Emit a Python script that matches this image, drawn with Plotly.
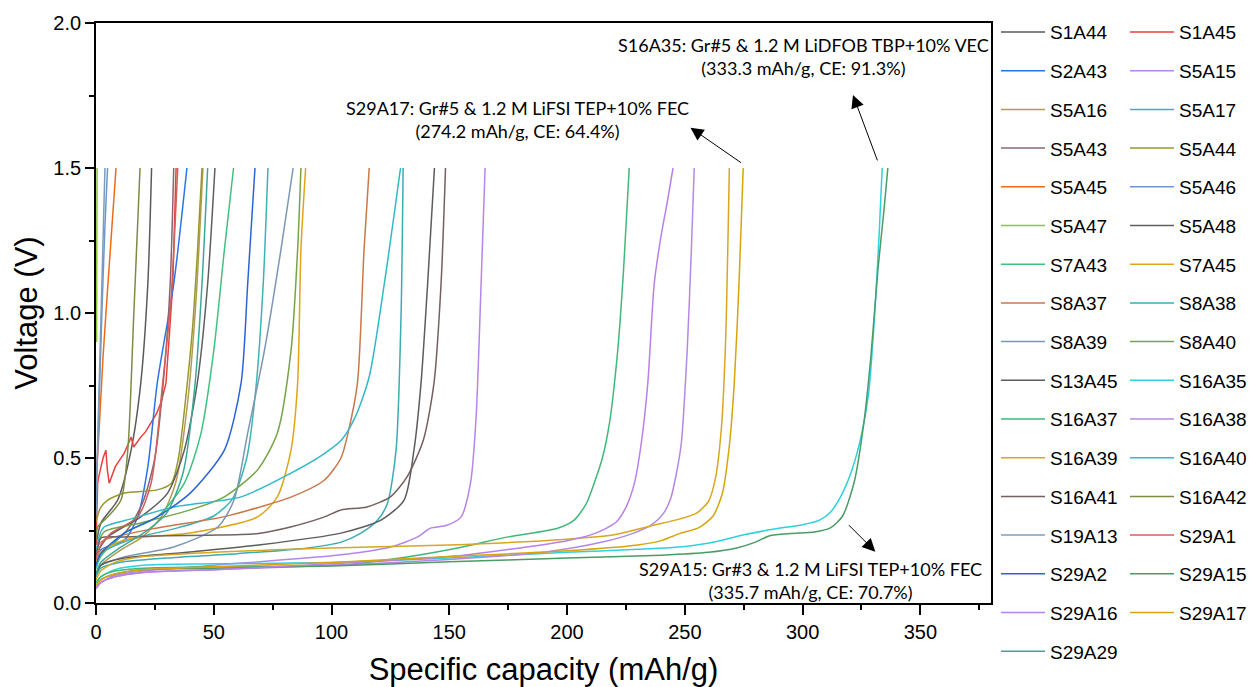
import plotly.graph_objects as go

# ---------------- data (capacity mAh/g, voltage V) ----------------
cap_S1A44 = [0, 2.1, 9.2, 14.9, 19, 22, 23.6]
volt_S1A44 = [0.2, 0.276, 0.355, 0.527, 0.758, 1.1, 1.5]

cap_S1A45 = [0, 0.3, 0.7, 1.3, 2.1, 3.0, 4.2, 4.8, 5.6, 7, 8.2, 9.2, 10.5, 12, 13.5, 14.9, 16, 17.5, 19, 21, 23.4, 25.5, 27.6, 29.7, 31.2, 32.6, 34]
volt_S1A45 = [0.2, 0.3, 0.413, 0.44, 0.469, 0.5, 0.527, 0.46, 0.413, 0.448, 0.47, 0.483, 0.5, 0.517, 0.545, 0.572, 0.538, 0.555, 0.572, 0.59, 0.62, 0.65, 0.69, 0.758, 0.93, 1.1, 1.5]

cap_S2A43 = [0, 2, 12, 17.7, 22, 26, 33, 38.6]
volt_S2A43 = [0.12, 0.183, 0.217, 0.297, 0.469, 0.758, 1.1, 1.5]

cap_S5A15 = [0, 2, 8, 20, 50, 104, 125, 136.6, 142, 149, 155, 159, 161.4, 163.5, 165.2]
volt_S5A15 = [0.05, 0.07, 0.095, 0.11, 0.13, 0.166, 0.193, 0.228, 0.258, 0.268, 0.297, 0.413, 0.643, 1.1, 1.5]

cap_S5A16 = [0, 2, 10, 20, 28, 34, 39, 42.5, 45.4]
volt_S5A16 = [0.09, 0.13, 0.18, 0.23, 0.3, 0.42, 0.7, 1.05, 1.5]

cap_S5A17 = [0, 2, 15, 35, 50, 58, 64, 68, 71, 73]
volt_S5A17 = [0.12, 0.17, 0.22, 0.26, 0.3, 0.36, 0.5, 0.75, 1.1, 1.5]

cap_S5A43 = [0, 2, 8, 14, 20, 25, 29, 31.5, 33]
volt_S5A43 = [0.12, 0.17, 0.21, 0.26, 0.35, 0.5, 0.8, 1.1, 1.5]

cap_S5A44 = [0, 2, 5, 12, 26, 32, 35, 38, 41, 43, 45]
volt_S5A44 = [0.28, 0.33, 0.355, 0.379, 0.39, 0.413, 0.5, 0.7, 0.95, 1.2, 1.5]

cap_S5A45 = [0, 1, 3, 5.5, 8.5]
volt_S5A45 = [0.42, 0.55, 0.85, 1.15, 1.5]

cap_S5A46 = [0, 1, 2.5, 3.8, 4.9]
volt_S5A46 = [0.35, 0.6, 1.0, 1.3, 1.5]

cap_S5A47 = [0.25, 0.3, 0.35, 0.4, 0.45]
volt_S5A47 = [0.9, 1.1, 1.25, 1.35, 1.5]

cap_S5A48 = [0, 1, 5, 19, 30.4, 37.5, 43, 47.4, 50.5]
volt_S5A48 = [0.14, 0.18, 0.228, 0.297, 0.379, 0.527, 0.758, 1.1, 1.5]

cap_S7A43 = [0, 2, 12, 26, 37.5, 44.6, 50, 54.5, 58.4]
volt_S7A43 = [0.12, 0.16, 0.241, 0.297, 0.413, 0.586, 0.87, 1.217, 1.5]

cap_S7A45 = [0, 1, 12, 40, 68.6, 77, 82.8, 85.6, 87, 89]
volt_S7A45 = [0.13, 0.17, 0.217, 0.241, 0.297, 0.366, 0.527, 0.758, 1.217, 1.5]

cap_S8A37 = [0, 1, 3.4, 26, 54, 83, 97, 104, 107, 111, 113.8, 116]
volt_S8A37 = [0.15, 0.2, 0.217, 0.259, 0.297, 0.366, 0.424, 0.5, 0.586, 0.758, 1.217, 1.5]

cap_S8A38 = [0, 2, 10, 30, 60, 90, 104, 112.5, 119.6, 123.8, 127.4, 129.5, 130.4]
volt_S8A38 = [0.09, 0.12, 0.14, 0.155, 0.17, 0.19, 0.21, 0.241, 0.286, 0.345, 0.527, 0.986, 1.5]

cap_S8A39 = [0, 2, 12, 33, 51.7, 58.6, 64.4, 71.5, 78.5, 83.7]
volt_S8A39 = [0.1, 0.13, 0.159, 0.193, 0.262, 0.355, 0.586, 0.87, 1.217, 1.5]

cap_S8A40 = [0, 3.4, 19, 40, 54.5, 68.6, 77, 82.8, 85.6, 87]
volt_S8A40 = [0.18, 0.245, 0.276, 0.321, 0.366, 0.459, 0.586, 0.87, 1.217, 1.5]

cap_S13A45 = [0, 2, 12, 40, 69, 104, 121, 130.8, 135, 138, 140.8, 143.7]
volt_S13A45 = [0.1, 0.13, 0.155, 0.176, 0.2, 0.241, 0.286, 0.355, 0.527, 0.758, 1.1, 1.5]

cap_S16A35 = [0, 2, 8, 20, 50, 100, 150, 200, 230, 250, 265, 275, 288, 300, 307, 312, 317, 321, 325, 328, 330.5, 332.5, 333.8]
volt_S16A35 = [0.07, 0.09, 0.115, 0.13, 0.135, 0.14, 0.155, 0.175, 0.185, 0.195, 0.215, 0.235, 0.255, 0.27, 0.285, 0.315, 0.38, 0.46, 0.58, 0.72, 0.98, 1.27, 1.5]

cap_S16A37 = [0, 2, 8, 20, 50, 104, 132, 153.5, 175, 196, 203, 208, 211.5, 215, 218, 221.5, 224, 226.4]
volt_S16A37 = [0.07, 0.09, 0.11, 0.12, 0.125, 0.131, 0.159, 0.19, 0.228, 0.258, 0.286, 0.34, 0.413, 0.5, 0.62, 0.87, 1.15, 1.5]

cap_S16A38 = [0, 2, 8, 20, 50, 100, 150, 190, 215, 228, 236, 241, 244, 246.5, 248.5, 251, 252.7, 254]
volt_S16A38 = [0.05, 0.07, 0.09, 0.105, 0.115, 0.13, 0.15, 0.175, 0.21, 0.24, 0.27, 0.31, 0.36, 0.45, 0.55, 0.87, 1.2, 1.5]

cap_S16A39 = [0, 2, 8, 20, 50, 100, 150, 200, 220, 235, 248, 255, 260, 263, 265.5, 267.3, 268.9]
volt_S16A39 = [0.08, 0.11, 0.14, 0.16, 0.175, 0.19, 0.2, 0.22, 0.235, 0.265, 0.29, 0.31, 0.35, 0.43, 0.6, 0.9, 1.5]

cap_S16A40 = [0, 1, 3.4, 15, 33, 61.6, 82.8, 96, 104, 110, 116, 122.4, 129.3]
volt_S16A40 = [0.15, 0.22, 0.262, 0.29, 0.331, 0.366, 0.448, 0.51, 0.56, 0.64, 0.78, 1.1, 1.5]

cap_S16A41 = [0, 1, 2, 12, 30, 47.5, 69, 83, 97, 104, 115, 125, 132, 139, 143.5, 146.5, 148.4]
volt_S16A41 = [0.16, 0.2, 0.224, 0.228, 0.232, 0.234, 0.24, 0.263, 0.297, 0.321, 0.331, 0.366, 0.434, 0.562, 0.758, 1.1, 1.5]

cap_S16A42 = [0, 0.7, 5, 10.6, 13.5, 16, 18.7]
volt_S16A42 = [0.22, 0.262, 0.297, 0.355, 0.527, 0.986, 1.5]

cap_S19A13 = [0, 0.5, 1.5, 2.5, 3.8]
volt_S19A13 = [0.3, 0.5, 0.8, 1.1, 1.5]

cap_S29A1 = [0, 2, 6.4, 17.7, 23.4, 28.3, 31.8, 34.7]
volt_S29A1 = [0.15, 0.2, 0.241, 0.297, 0.413, 0.758, 1.045, 1.5]

cap_S29A2 = [0, 2, 12, 26, 40, 54.5, 61.6, 64.4, 67.5]
volt_S29A2 = [0.13, 0.17, 0.241, 0.297, 0.379, 0.527, 0.758, 1.1, 1.5]

cap_S29A15 = [0, 2, 8, 20, 50, 100, 150, 200, 240, 260, 272, 280, 286, 295, 305, 312, 317, 322, 326, 329, 332, 334.5, 336.2]
volt_S29A15 = [0.06, 0.08, 0.10, 0.115, 0.12, 0.128, 0.142, 0.155, 0.165, 0.175, 0.19, 0.21, 0.232, 0.24, 0.245, 0.26, 0.30, 0.42, 0.62, 0.85, 1.15, 1.35, 1.5]

cap_S29A16 = [0, 2, 8, 20, 50, 100, 150, 180, 200, 210, 216, 221, 225, 228.5, 231.5, 234.3, 237, 240, 242.5, 245]
volt_S29A16 = [0.05, 0.07, 0.09, 0.105, 0.115, 0.135, 0.16, 0.19, 0.215, 0.235, 0.255, 0.28, 0.33, 0.41, 0.55, 0.76, 1.1, 1.27, 1.38, 1.5]

cap_S29A17 = [0, 2, 8, 20, 50, 100, 150, 200, 230, 240, 248, 256, 262, 266, 269, 271, 273, 274.8]
volt_S29A17 = [0.06, 0.08, 0.10, 0.115, 0.125, 0.14, 0.16, 0.18, 0.2, 0.215, 0.24, 0.26, 0.3, 0.38, 0.55, 0.76, 1.1, 1.5]

cap_S29A29 = [0, 2, 10, 20, 30, 37, 42, 45, 47.4]
volt_S29A29 = [0.1, 0.14, 0.19, 0.24, 0.31, 0.45, 0.75, 1.1, 1.5]

series_names = ["S1A44", "S1A45", "S2A43", "S5A15", "S5A16", "S5A17", "S5A43", "S5A44",
                "S5A45", "S5A46", "S5A47", "S5A48", "S7A43", "S7A45", "S8A37", "S8A38",
                "S8A39", "S8A40", "S13A45", "S16A35", "S16A37", "S16A38", "S16A39", "S16A40",
                "S16A41", "S16A42", "S19A13", "S29A1", "S29A2", "S29A15", "S29A16", "S29A17",
                "S29A29"]

series_colors = ["#5a5a5a", "#e8413c", "#2a73e8", "#b884e8", "#b59a52", "#3cb4b4", "#8c6470", "#959a2c",
                 "#ee6b18", "#6e98cc", "#8cc43c", "#5f5f5f", "#3fc27e", "#e0a417", "#c8784a", "#3aacb4",
                 "#7c96b4", "#76a448", "#5c5c5c", "#2fd0e0", "#3fb87a", "#b488e4", "#d8a624", "#32b8c8",
                 "#74605e", "#7c8c44", "#7c9cbc", "#d0605c", "#2a64d4", "#4a9c64", "#b880e8", "#d8a40c",
                 "#3aa898"]

x_ticks = [0, 50, 100, 150, 200, 250, 300, 350]
y_ticks = [0.0, 0.5, 1.0, 1.5, 2.0]

g = globals()
fig = go.Figure()
for i, (name, color) in enumerate(zip(series_names, series_colors)):
    xs = g["cap_" + name]
    ys = g["volt_" + name]
    shape = "linear" if name == "S1A45" else "spline"
    fig.add_trace(go.Scatter(
        x=xs, y=ys, mode="lines", name=name,
        line=dict(color=color, width=1.5, shape=shape, smoothing=0.7),
        legend="legend" if i % 2 == 0 else "legend2",
        legendgroup=name,
    ))

FONT = "Liberation Sans, Arial, sans-serif"
ANN_FONT = dict(family="Lato, Open Sans, sans-serif", size=18, color="black")

legend_common = dict(
    orientation="v", traceorder="grouped", tracegroupgap=11,
    font=dict(family=FONT, size=19, color="black"),
    bgcolor="rgba(0,0,0,0)", borderwidth=0, itemwidth=44, maxheight=760,
    yanchor="top", y=1.017, xanchor="left",
)

fig.update_layout(
    width=1251, height=687,
    margin=dict(l=96, r=260, t=23, b=84, autoexpand=False),
    paper_bgcolor="white", plot_bgcolor="white",
    font=dict(family=FONT, color="black"),
    legend=dict(**legend_common, x=1.0056),
    legend2=dict(**legend_common, x=1.1497),
    xaxis=dict(
        range=[0, 380], tickvals=x_ticks, ticks="outside", ticklen=10, tickwidth=1.8,
        tickcolor="black", linecolor="black", linewidth=1.8, mirror=True, showgrid=False,
        zeroline=False, tickfont=dict(family=FONT, size=20, color="black"),
        minor=dict(dtick=25, ticks="outside", ticklen=5, tickwidth=1.5, tickcolor="black", showgrid=False),
        title=dict(text="Specific capacity (mAh/g)", font=dict(family=FONT, size=31, color="black"), standoff=16),
    ),
    yaxis=dict(
        range=[0, 2.0], tickvals=y_ticks, tickformat=".1f", ticks="outside", ticklen=9, tickwidth=1.8,
        tickcolor="black", linecolor="black", linewidth=1.8, mirror=True, showgrid=False,
        zeroline=False, tickfont=dict(family=FONT, size=20, color="black"),
        minor=dict(dtick=0.25, ticks="outside", ticklen=5, tickwidth=1.5, tickcolor="black", showgrid=False),
        title=dict(text="Voltage (V)", font=dict(family=FONT, size=31, color="black"), standoff=6),
    ),
)

annotations = [
    dict(x=300.2, y=1.883, xref="x", yref="y", showarrow=False, font=ANN_FONT,
         text="S16A35: Gr#5 &amp; 1.2 M LiDFOB TBP+10% VEC<br>(333.3 mAh/g, CE: 91.3%)", align="center"),
    dict(x=179, y=1.666, xref="x", yref="y", showarrow=False, font=ANN_FONT,
         text="S29A17: Gr#5 &amp; 1.2 M LiFSI TEP+10% FEC<br>(274.2 mAh/g, CE: 64.4%)", align="center"),
    dict(x=303.4, y=0.079, xref="x", yref="y", showarrow=False, font=ANN_FONT,
         text="S29A15: Gr#3 &amp; 1.2 M LiFSI TEP+10% FEC<br>(335.7 mAh/g, CE: 70.7%)", align="center"),
    dict(x=321.4, y=1.752, xref="x", yref="y", ax=25, ay=67, text="", showarrow=True,
         arrowhead=2, arrowsize=2.6, arrowwidth=1, arrowcolor="black"),
    dict(x=252.4, y=1.639, xref="x", yref="y", ax=52, ay=36, text="", showarrow=True,
         arrowhead=2, arrowsize=2.6, arrowwidth=1, arrowcolor="black"),
    dict(x=330.9, y=0.177, xref="x", yref="y", ax=-28, ay=-28, text="", showarrow=True,
         arrowhead=2, arrowsize=2.6, arrowwidth=1, arrowcolor="black"),
]
fig.update_layout(annotations=annotations)

fig.write_html("out.html")
